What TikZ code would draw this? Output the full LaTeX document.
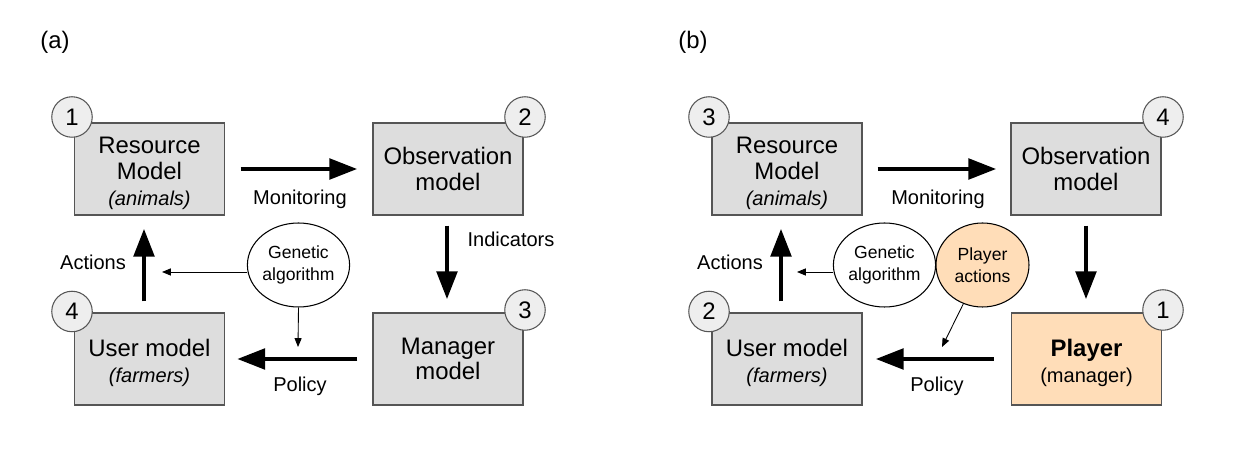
\documentclass[tikz,border=0pt]{standalone}
\usepackage{fontspec}
\setmainfont{Liberation Sans}
\usetikzlibrary{arrows.meta,shapes.geometric,positioning}
\definecolor{boxgray}{HTML}{DDDDDD}
\definecolor{numgray}{HTML}{EEEEEE}
\definecolor{playerorange}{HTML}{FFDDB8}
\definecolor{edgegray}{HTML}{555555}
\newcommand{\subline}[1]{{\fontsize{11.4}{13}\selectfont #1}}
\newcommand{\topgap}{\rule{0pt}{14.2pt}}

\begin{document}
\begin{tikzpicture}
    [x=0.02cm, y=-0.02cm,
    model/.style={draw=edgegray, line width=0.7pt, fill=boxgray, minimum width=3cm,
        minimum height=1.84cm, inner sep=0pt, align=center,
        font=\fontsize{13.6}{14.6}\selectfont},
    number/.style={circle, draw=edgegray, line width=0.6pt, fill=numgray, minimum size=0.81cm,
        inner sep=0pt, font=\fontsize{13.6}{14.6}\selectfont},
    blob/.style={ellipse, draw=black, line width=0.6pt, fill=white, minimum width=1.86cm,
        minimum height=1.68cm, inner sep=0pt, align=center,
        font=\fontsize{10}{12.5}\selectfont},
    flow/.style={line width=2.8pt, -{Triangle[length=16pt,width=11.5pt]}},
    hint/.style={line width=0.5pt, -{Triangle[length=5pt,width=4pt]}},
    lbl/.style={font=\fontsize{11.4}{13}\selectfont},
    panel/.style={font=\fontsize{13.6}{14.6}\selectfont}]
    \useasboundingbox (0,0) rectangle (1248,455);

    % (a) the model
    \node[panel] (pa-a) at (55,42) {(a)};
    \node[model] (res) at (149.5,169) {\topgap Resource\\Model\\\subline{\textit{(animals)}}};
    \node[model] (obs) at (448,169) {Observation\\model};
    \node[model] (man) at (448,359) {Manager\\model};
    \node[model] (usr) at (149.5,359) {\topgap User model\\\subline{\textit{(farmers)}}};
    \node[number] (n-res) at (72,117) {1};
    \node[number] (n-obs) at (525,117) {2};
    \node[number] (n-man) at (525,310) {3};
    \node[number] (n-usr) at (72,311.5) {4};
    \node[blob] (ga) at (298.5,265) {Genetic\\algorithm};
    \coordinate (act-tip) at (162,272);
    \coordinate (pol-tip) at (298,347);

    \draw[flow, shorten <=0.31cm, shorten >=0.3cm] (res.east) -- (obs.west);
    \draw[flow, shorten <=0.2cm, shorten >=0.26cm] ([xshift=-0.02cm]obs.south) -- ([xshift=-0.02cm]man.north);
    \draw[flow, shorten <=0.3cm, shorten >=0.24cm] (man.west) -- (usr.east);
    \draw[flow, shorten <=0.22cm, shorten >=0.26cm] ([xshift=-0.11cm]usr.north) -- ([xshift=-0.11cm]res.south);
    \draw[hint] (ga.west |- act-tip) -- (act-tip);
    \draw[hint] (ga.south) -- (pol-tip);

    \node[lbl] (mon) at (300,199) {Monitoring};
    \node[lbl] (ind) at (511,239) {Indicators};
    \node[lbl] (pol) at (300,386) {Policy};
    \node[lbl] (act) at (93,262) {Actions};

    % (b) the game
    \node[panel] (pa-b) at (693,42) {(b)};
    \node[model] (res2) at (787,169) {\topgap Resource\\Model\\\subline{\textit{(animals)}}};
    \node[model] (obs2) at (1086,169) {Observation\\model};
    \node[model, fill=playerorange] (ply) at (1086.5,359) {\topgap\textbf{Player}\\\subline{(manager)}};
    \node[model] (usr2) at (787,359) {\topgap User model\\\subline{\textit{(farmers)}}};
    \node[number] (n-res2) at (709,117) {3};
    \node[number] (n-obs2) at (1163,117) {4};
    \node[number] (n-ply) at (1163,310) {1};
    \node[number] (n-usr2) at (709,311.5) {2};
    \node[blob] (ga2) at (884.5,265) {Genetic\\algorithm};
    \node[blob, fill=playerorange] (pact) at (982.5,265) {Player\\actions};
    \coordinate (act-tip2) at (797,272);
    \coordinate (pol-tip2) at (942,347);

    \draw[flow, shorten <=0.3cm, shorten >=0.28cm] (res2.east) -- (obs2.west);
    \draw[flow, shorten <=0.2cm, shorten >=0.26cm] (obs2.south) -- (obs2.south |- ply.north);
    \draw[flow, shorten <=0.34cm, shorten >=0.26cm] (ply.west) -- (usr2.east);
    \draw[flow, shorten <=0.22cm, shorten >=0.26cm] ([xshift=-0.12cm]usr2.north) -- ([xshift=-0.12cm]res2.south);
    \draw[hint] (ga2.west |- act-tip2) -- (act-tip2);
    \draw[hint] (pact) -- (pol-tip2);

    \node[lbl] (mon2) at (938,199) {Monitoring};
    \node[lbl] (pol2) at (937,386) {Policy};
    \node[lbl] (act2) at (730,262) {Actions};
\end{tikzpicture}
\end{document}
